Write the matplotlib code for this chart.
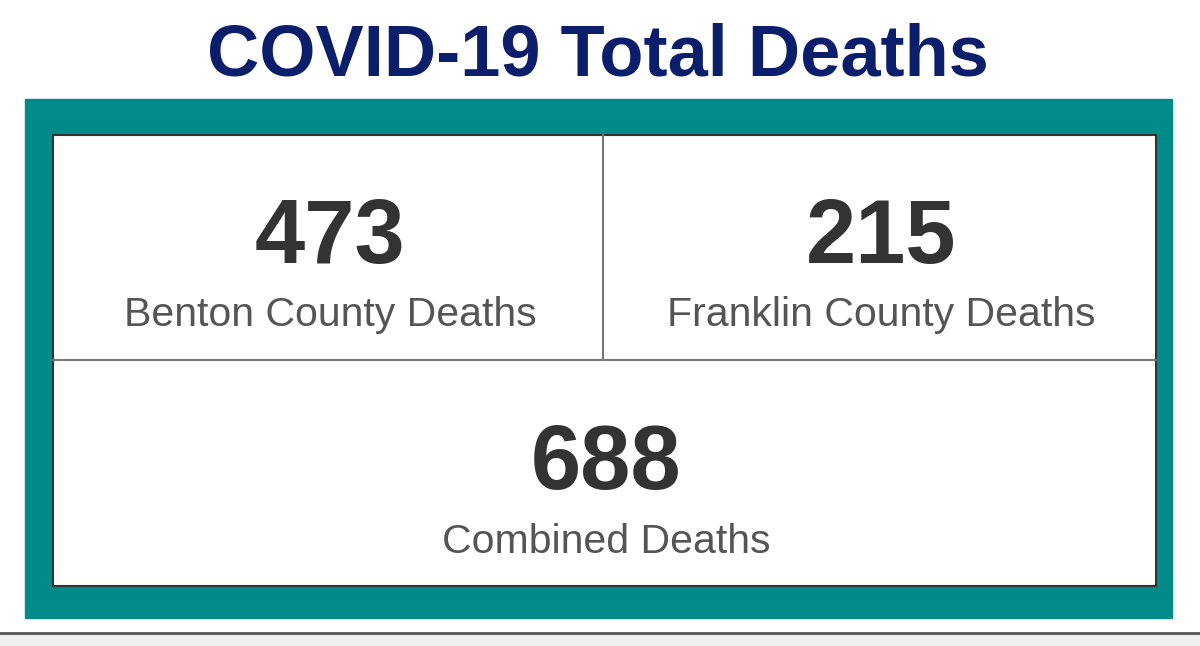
import matplotlib.pyplot as plt
from matplotlib.patches import Rectangle

title = 'COVID-19 Total Deaths'
counts = ['473', '215', '688']
labels = ['Benton County Deaths', 'Franklin County Deaths', 'Combined Deaths']

plt.rcParams['font.family'] = ['Liberation Sans', 'DejaVu Sans']
fig = plt.figure(figsize=(12, 6.46), dpi=100)
ax = fig.add_axes([0, 0, 1, 1])
ax.set_xlim(0, 1200)
ax.set_ylim(646, 0)
ax.axis('off')

# page bottom strip
ax.add_patch(Rectangle((0, 633), 1200, 13, color='#efefef', zorder=0))
ax.plot([0, 1200], [633, 633], color='#555555', lw=2)

# teal frame and white panel
ax.add_patch(Rectangle((25, 99), 1147, 519, color='#008b8b', zorder=1))
ax.add_patch(Rectangle((53, 135), 1103, 451, facecolor='white',
                       edgecolor='#333333', lw=1.5, zorder=2))
ax.plot([53, 1156], [360, 360], color='#777777', lw=1.5, zorder=3)
ax.plot([603, 603], [135, 360], color='#777777', lw=1.5, zorder=3)

ax.text(598, 56, title, ha='center', va='center', fontsize=52,
        fontweight='bold', color='#0b1e6b')

centers = [(330, 240, 315), (881, 240, 315), (606, 466, 542)]
for (cx, ny, ly), n, lab in zip(centers, counts, labels):
    ax.text(cx, ny, n, ha='center', va='center', fontsize=65,
            fontweight='bold', color='#333333', zorder=4)
    ax.text(cx, ly, lab, ha='center', va='center', fontsize=29.5,
            color='#555555', zorder=4)

fig.savefig('out.png', dpi=100)
